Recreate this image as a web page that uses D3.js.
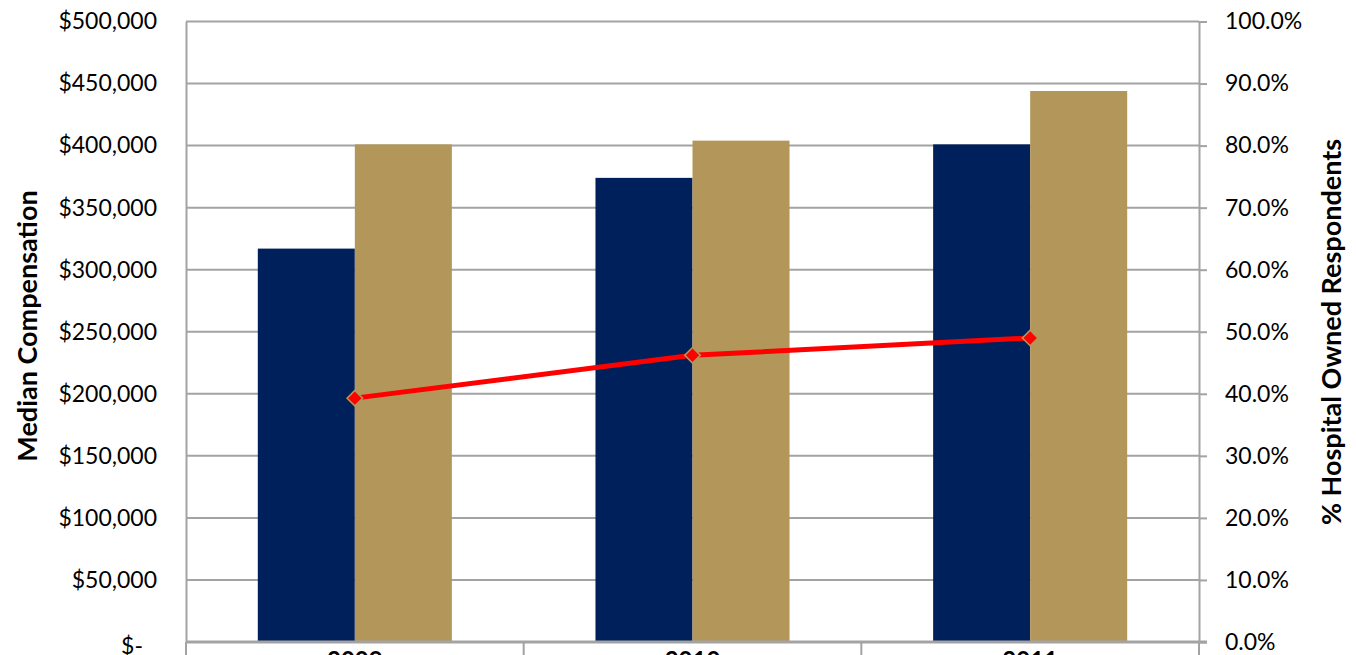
<!DOCTYPE html>
<html>
<head>
<meta charset="utf-8">
<script src="https://cdn.jsdelivr.net/npm/d3@7"></script>
<style>
  html, body { margin: 0; padding: 0; background: #ffffff; overflow: hidden; }
  svg { display: block; }
  text { font-family: Lato, "Open Sans", "Liberation Sans", sans-serif; fill: #000; }
</style>
</head>
<body>
<svg id="chart" width="1356" height="655"></svg>
<script>
// Survey years on the category axis
const years = ["2009", "2010", "2011"];

// Median compensation, two groups per year (left axis, dollars)
const compensationNavy = [317000, 374000, 401000];
const compensationGold = [401000, 404000, 444000];

// Share of respondents that are hospital owned (right axis, percent)
const hospitalOwnedPct = [39.3, 46.2, 49.0];

// Axis tick values
const dollarTicks = [0, 50000, 100000, 150000, 200000, 250000, 300000, 350000, 400000, 450000, 500000];
const percentTicks = [0, 10, 20, 30, 40, 50, 60, 70, 80, 90, 100];

const seriesKeys = ["navy", "gold"];
const seriesColor = { navy: "#00205B", gold: "#B3975A" };
const seriesValues = { navy: compensationNavy, gold: compensationGold };

const svg = d3.select("#chart");
const plot = { left: 186, right: 1199, top: 21.5, bottom: 642 };
const gridColor = "#A3A3A3";

const x0 = d3.scaleBand().domain(years).range([plot.left, plot.right]).paddingInner(0).paddingOuter(0);
const x1 = d3.scaleBand().domain(seriesKeys).range([0, x0.bandwidth()]).paddingInner(0).paddingOuter(0.74);
const yL = d3.scaleLinear().domain([0, 500000]).range([plot.bottom, plot.top]);
const yR = d3.scaleLinear().domain([0, 100]).range([plot.bottom, plot.top]);

// Horizontal gridlines
svg.append("g")
  .selectAll("line")
  .data(dollarTicks)
  .join("line")
  .attr("x1", plot.left).attr("x2", plot.right)
  .attr("y1", d => yL(d)).attr("y2", d => yL(d))
  .attr("stroke", gridColor).attr("stroke-width", 2);

// Left axis: dollar labels
const fmtDollar = d => d === 0 ? "$-" : "$" + d3.format(",")(d);
const leftAxis = svg.append("g")
  .attr("transform", `translate(${plot.left},0)`)
  .call(d3.axisLeft(yL).tickValues(dollarTicks).tickSize(0).tickPadding(29).tickFormat(fmtDollar));
leftAxis.select(".domain").attr("stroke", gridColor).attr("stroke-width", 2);
leftAxis.selectAll("text")
  .style("font-size", "23px").style("font-family", "Lato, sans-serif");
leftAxis.selectAll(".tick").filter(d => d === 0).select("text").attr("dx", "-14px").attr("dy", "0.5em");

// Right axis: percent labels with outward ticks
const rightAxis = svg.append("g")
  .attr("transform", `translate(${plot.right},0)`)
  .call(d3.axisRight(yR).tickValues(percentTicks).tickSizeInner(8).tickSizeOuter(0).tickPadding(18)
    .tickFormat(d => d.toFixed(1) + "%"));
rightAxis.select(".domain").attr("stroke", gridColor).attr("stroke-width", 2);
rightAxis.selectAll("line").attr("stroke", gridColor).attr("stroke-width", 2);
rightAxis.selectAll("text")
  .style("font-size", "23px").style("font-family", "Lato, sans-serif");

// Bars
const groups = svg.append("g")
  .selectAll("g")
  .data(years)
  .join("g")
  .attr("transform", d => `translate(${x0(d)},0)`);

groups.selectAll("rect")
  .data((yr, i) => seriesKeys.map(k => ({ key: k, value: seriesValues[k][i] })))
  .join("rect")
  .attr("x", d => x1(d.key))
  .attr("width", x1.bandwidth())
  .attr("y", d => yL(d.value))
  .attr("height", d => yL(0) - yL(d.value))
  .attr("fill", d => seriesColor[d.key]);

// Bottom category axis with separators between years
const bottomAxis = svg.append("g")
  .attr("transform", `translate(0,${plot.bottom})`);
bottomAxis.append("line")
  .attr("x1", plot.left).attr("x2", plot.right + 8)
  .attr("y1", 0).attr("y2", 0)
  .attr("stroke", gridColor).attr("stroke-width", 3);
const boundaries = years.map(y => x0(y)).concat([plot.right]);
bottomAxis.selectAll("line.sep")
  .data(boundaries)
  .join("line")
  .attr("class", "sep")
  .attr("x1", d => d).attr("x2", d => d)
  .attr("y1", 0).attr("y2", 20)
  .attr("stroke", gridColor).attr("stroke-width", 2);
bottomAxis.selectAll("text.cat")
  .data(years)
  .join("text")
  .attr("class", "cat")
  .attr("x", d => x0(d) + x0.bandwidth() / 2)
  .attr("y", 27)
  .attr("text-anchor", "middle")
  .style("font-size", "24px")
  .style("font-weight", "700")
  .text(d => d);

// Hospital-owned share line with diamond markers
const linePts = years.map((yr, i) => [x0(yr) + x0.bandwidth() / 2, yR(hospitalOwnedPct[i])]);
svg.append("path")
  .datum(linePts)
  .attr("d", d3.line())
  .attr("fill", "none")
  .attr("stroke", "#FF0000")
  .attr("stroke-width", 5);

svg.append("g")
  .selectAll("rect")
  .data(linePts)
  .join("rect")
  .attr("x", -5.5).attr("y", -5.5)
  .attr("width", 11).attr("height", 11)
  .attr("transform", d => `translate(${d[0]},${d[1]}) rotate(45)`)
  .attr("fill", "#FF0000")
  .attr("stroke", "#B3975A")
  .attr("stroke-width", 1.5);

// Axis titles
svg.append("text")
  .attr("transform", `translate(37,326) rotate(-90)`)
  .attr("text-anchor", "middle")
  .style("font-size", "27px")
  .style("font-weight", "700")
  .text("Median Compensation");

svg.append("text")
  .attr("transform", `translate(1341,332) rotate(-90)`)
  .attr("text-anchor", "middle")
  .style("font-size", "27px")
  .style("font-weight", "700")
  .text("% Hospital Owned Respondents");
</script>
</body>
</html>
